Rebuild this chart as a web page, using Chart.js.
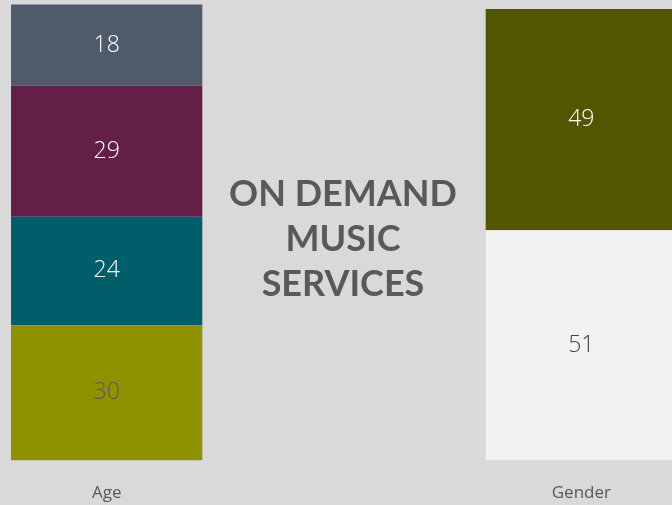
<!DOCTYPE html>
<html lang="en">
<head>
    <meta charset="UTF-8">
    <title>On Demand Music Services</title>
    <script src="https://cdn.jsdelivr.net/npm/chart.js"></script>
    <style>
        body {
            margin: 0;
            padding: 0;
            background-color: #d9d9d9;
            width: 672px;
            height: 505px;
            overflow: hidden;
            position: relative;
        }

        .chart-wrap {
            position: absolute;
            left: -12px;
            top: 0;
            width: 712px;
            height: 525px;
        }

        .center-title {
            position: absolute;
            left: 193px;
            width: 300px;
            top: 170px;
            text-align: center;
            font-family: Lato, "Open Sans", sans-serif;
            font-weight: 700;
            font-size: 36px;
            line-height: 45px;
            color: #595959;
        }
    </style>
</head>
<body>
    <div class="chart-wrap">
        <canvas id="musicChart"></canvas>
    </div>
    <div class="center-title">ON DEMAND<br>MUSIC<br>SERVICES</div>

    <script>
        // categories (middle one is the empty slot behind the title)
        const categories = ['Age', '', 'Gender'];

        // Age segments, bottom to top
        const ageValues = [30, 24, 29, 18];
        const ageColors = ['#8f9100', '#005e6b', '#631f45', '#4f5b6b'];
        const ageLabelColors = ['#595959', '#ffffff', '#ffffff', '#ffffff'];

        // Gender segments, bottom to top
        const genderValues = [51, 49];
        const genderColors = ['#f2f2f2', '#535600'];
        const genderLabelColors = ['#404040', '#ffffff'];

        const datasets = [];
        for (let i = 0; i < ageValues.length; i++) {
            datasets.push({
                data: [ageValues[i], null, i < genderValues.length ? genderValues[i] : null],
                backgroundColor: [ageColors[i], 'transparent', genderColors[i] || 'transparent'],
                labelColors: [ageLabelColors[i], null, genderLabelColors[i] || null],
                borderWidth: 0
            });
        }

        // draws the value in the middle of each segment
        const segmentLabels = {
            id: 'segmentLabels',
            afterDatasetsDraw(chart) {
                const ctx = chart.ctx;
                ctx.save();
                ctx.font = '300 23px "Open Sans", sans-serif';
                ctx.textAlign = 'center';
                ctx.textBaseline = 'middle';
                chart.data.datasets.forEach((ds, di) => {
                    chart.getDatasetMeta(di).data.forEach((bar, i) => {
                        const v = ds.data[i];
                        if (v == null) return;
                        ctx.fillStyle = ds.labelColors[i];
                        ctx.fillText(v, bar.x, (bar.y + bar.base) / 2);
                    });
                });
                ctx.restore();
            }
        };

        new Chart(document.getElementById('musicChart'), {
            type: 'bar',
            data: {
                labels: categories,
                datasets: datasets
            },
            options: {
                responsive: true,
                maintainAspectRatio: false,
                animation: false,
                layout: {
                    padding: { top: 0, bottom: 0, left: 0, right: 0 }
                },
                plugins: {
                    legend: { display: false },
                    tooltip: { enabled: false }
                },
                datasets: {
                    bar: {
                        categoryPercentage: 1,
                        barPercentage: 0.806
                    }
                },
                scales: {
                    x: {
                        stacked: true,
                        grid: { display: false, drawTicks: false },
                        border: { display: false },
                        ticks: {
                            color: '#595959',
                            padding: 22,
                            font: { family: '"Open Sans", sans-serif', size: 17 }
                        }
                    },
                    y: {
                        stacked: true,
                        display: false,
                        min: 0,
                        max: 102
                    }
                }
            },
            plugins: [segmentLabels]
        });
    </script>
</body>
</html>
